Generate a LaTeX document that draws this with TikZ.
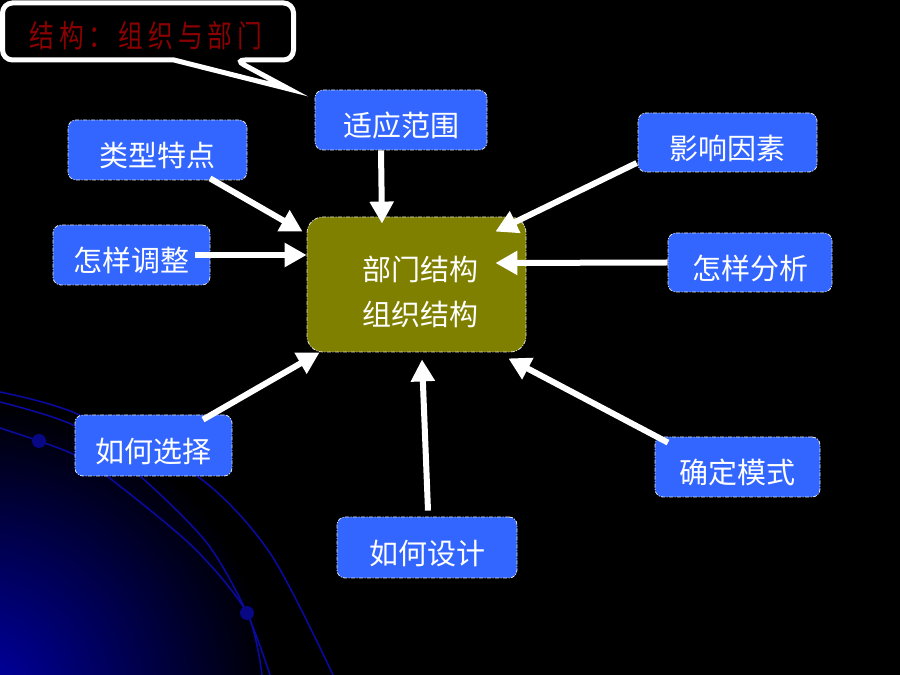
\documentclass[tikz,border=0pt]{standalone}
\usepackage{fontspec}
\setmainfont{Noto Sans CJK SC}
\newfontfamily\titlefont[LetterSpace=20]{Noto Sans CJK SC}
\usetikzlibrary{arrows.meta}
\definecolor{topicblue}{HTML}{3366FF}
\definecolor{coreolive}{HTML}{808000}
\definecolor{titlered}{HTML}{8B0000}
\definecolor{arcblue}{HTML}{0A0A9C}
\definecolor{glowblue}{HTML}{0000AA}
\begin{document}
\begin{tikzpicture}[x=1pt, y=1pt,
    topic/.style={draw=white!80!gray, line width=0.8pt,
        dash pattern=on 4pt off 1.5pt on 1pt off 1.5pt,
        fill=topicblue, rounded corners=8pt, text=white,
        font=\fontsize{29}{35}\selectfont, inner sep=0pt,
        minimum height=60pt, text height=36pt, text depth=2pt},
    core/.style={topic, fill=coreolive, rounded corners=16pt,
        font=\fontsize{29}{45}\selectfont,
        minimum width=219pt, minimum height=135pt,
        text height=40pt, text depth=8pt},
    link/.style={draw=white, line width=6pt,
        -{Triangle[length=22pt,width=23pt]}},
    arc/.style={draw=arcblue, line width=1.6pt}]

    \useasboundingbox (0,0) rectangle (900,675);
    \fill[black] (0,0) rectangle (900,675);
    \begin{scope}
        \clip (0,0) rectangle (900,675);
        \shade[inner color=glowblue, outer color=black] (-25,-25) circle (300);
    \end{scope}

    \draw[arc] plot[smooth] coordinates {(0,283) (75,262) (197,199) (270,122) (333,0)};
    \draw[arc] plot[smooth] coordinates {(0,273) (75,249) (140,199) (207,132) (247,62) (270,0)};
    \draw[arc] plot[smooth] coordinates {(0,247) (39,234) (75,220) (107,199) (193,128) (247,62) (262,0)};
    \fill[arcblue!85!black] (39,234) circle (7) (247,62) circle (7);

    \draw[white, line width=5pt, fill=black, rounded corners=10pt]
        (2.5,672) -- (293.5,672) -- (293.5,615) -- (235,615)
        [sharp corners] -- (289,586) -- (174,615)
        [rounded corners=10pt] -- (2.5,615) -- cycle;
    \node[font=\titlefont\fontsize{31}{34}\selectfont, text=titlered, xscale=0.8]
        (title) at (146,639) {结构：组织与部门};

    \node[topic, minimum width=179pt] (kinds) at (157.5,525) {类型特点};
    \node[topic, minimum width=172pt] (scope) at (401,555) {适应范围};
    \node[topic, minimum width=179pt, minimum height=59pt] (factors) at (727.5,532.5) {影响因素};
    \node[topic, minimum width=157pt] (adjust) at (131.5,420) {怎样调整};
    \node[topic, minimum width=164pt, minimum height=59pt] (analyse) at (750,412.5) {怎样分析};
    \node[topic, minimum width=157pt, minimum height=61pt] (choose) at (153.5,229.5) {如何选择};
    \node[topic, minimum width=180pt, minimum height=61pt] (design) at (427,127.5) {如何设计};
    \node[topic, minimum width=165pt] (mode) at (737.5,208) {确定模式};
    \node[core] (hub) at (416.5,390.5) {\hspace{8pt}\begin{tabular}{c}部门结构\\组织结构\end{tabular}};

    \draw[link] ([xshift=52.5pt,yshift=2pt]kinds.south) -- ([xshift=-4pt,yshift=-15pt]hub.north west);
    \draw[link] ([xshift=-15pt]adjust.east) -- ([yshift=29.5pt]hub.west);
    \draw[link] ([xshift=-20pt]scope.south) -- ([xshift=-34.5pt,yshift=-7pt]hub.north);
    \draw[link] ([xshift=-1pt,yshift=-20.5pt]factors.west) -- ([xshift=-31pt,yshift=-15pt]hub.north east);
    \draw[link] (analyse.west) -- ([xshift=-31pt,yshift=21.5pt]hub.east);
    \draw[link] ([xshift=49.5pt,yshift=-5pt]choose.north) -- ([xshift=13pt]hub.south west);
    \draw[link] ([xshift=1pt,yshift=6pt]design.north) -- ([xshift=5.5pt,yshift=-7pt]hub.south);
    \draw[link] ([xshift=-69.5pt,yshift=-6pt]mode.north) -- ([xshift=-18pt,yshift=-6pt]hub.south east);
\end{tikzpicture}
\end{document}
